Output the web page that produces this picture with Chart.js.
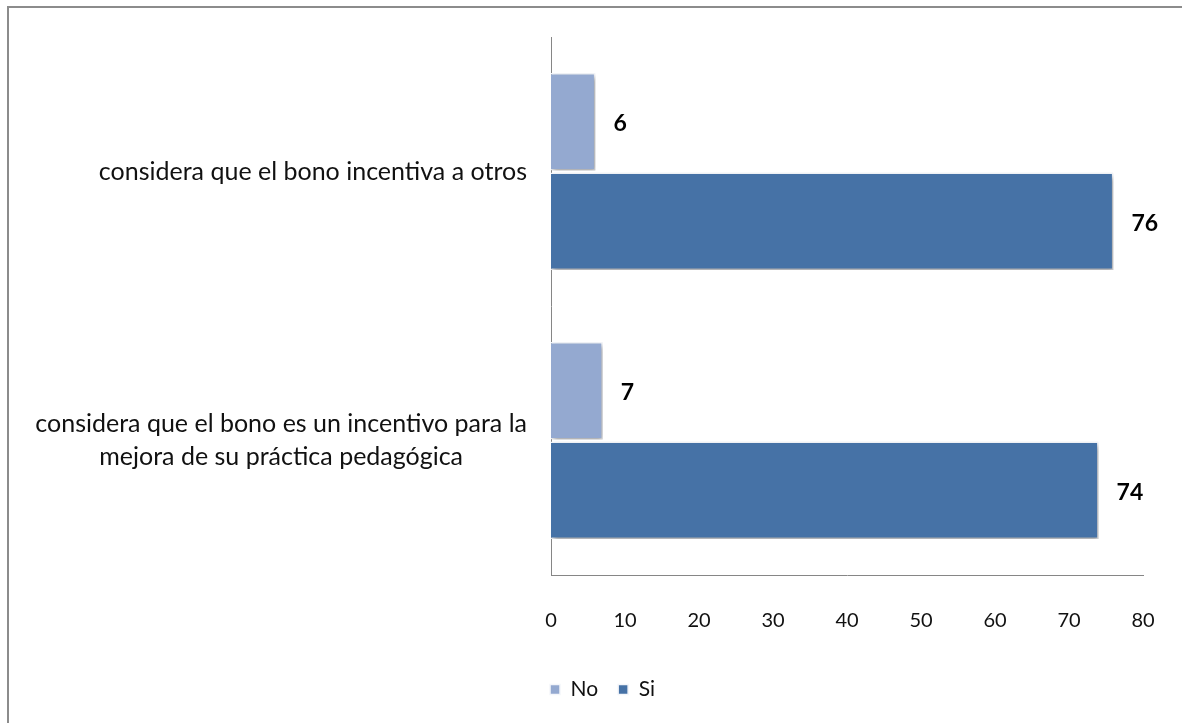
<!DOCTYPE html>
<html>
<head>
<meta charset="utf-8">
<title>Bono incentivo</title>
<script src="https://cdn.jsdelivr.net/npm/chart.js@4"></script>
<style>
  html, body { margin: 0; padding: 0; background: #fff; overflow: hidden; }
  #wrap { position: relative; width: 1182px; height: 723px; }
  #frame { position: absolute; left: 7px; top: 6px; width: 1300px; height: 900px;
           border-left: 2px solid #8c8c8c; border-top: 2px solid #8c8c8c; }
  #c { position: absolute; left: 0; top: 0; }
</style>
</head>
<body>
<div id="wrap">
  <div id="frame"></div>
  <canvas id="c" width="1182" height="723"></canvas>
</div>
<script>
// Categories (each label is a list of lines)
const categories = [
  ["considera que el bono incentiva a otros"],
  ["considera que el bono es un incentivo para la", "mejora de su práctica pedagógica"]
];
const seriesNames = ["No", "Si"];
const noValues = [6, 7];
const siValues = [76, 74];
const xTicks = [0, 10, 20, 30, 40, 50, 60, 70, 80];

const colorNo = "#94a9d0";
const colorSi = "#4672a6";
const FONT = "Lato, 'Open Sans', sans-serif";

// Soft drop shadow under the bars
const barShadow = {
  id: "barShadow",
  beforeDatasetDraw(chart) {
    const ctx = chart.ctx;
    ctx.save();
    ctx.shadowColor = "rgba(0,0,0,0.35)";
    ctx.shadowBlur = 5;
    ctx.shadowOffsetX = 2;
    ctx.shadowOffsetY = 3;
  },
  afterDatasetDraw(chart) {
    chart.ctx.restore();
  }
};

// Category labels: block right-aligned to the axis, lines centred in the block
const categoryLabels = {
  id: "categoryLabels",
  afterDraw(chart) {
    const ctx = chart.ctx;
    const yScale = chart.scales.y;
    const right = chart.chartArea.left - 24;
    const lineH = 33;
    ctx.save();
    ctx.font = "25px " + FONT;
    ctx.fillStyle = "#111";
    ctx.textBaseline = "middle";
    ctx.textAlign = "center";
    categories.forEach((lines, i) => {
      const cy = yScale.getPixelForTick(i);
      const w = Math.max(...lines.map(l => ctx.measureText(l).width));
      const cx = right - w / 2;
      const y0 = cy - (lines.length - 1) * lineH / 2;
      lines.forEach((l, k) => ctx.fillText(l, cx, y0 + k * lineH));
    });
    ctx.restore();
  }
};

// Value labels at the end of each bar
const valueLabels = {
  id: "valueLabels",
  afterDatasetsDraw(chart) {
    const ctx = chart.ctx;
    ctx.save();
    ctx.font = "bold 23px " + FONT;
    ctx.fillStyle = "#000";
    ctx.textBaseline = "middle";
    ctx.textAlign = "left";
    chart.data.datasets.forEach((ds, di) => {
      chart.getDatasetMeta(di).data.forEach((bar, i) => {
        ctx.fillText(String(ds.data[i]), bar.x + 18, bar.y + 2);
      });
    });
    ctx.restore();
  }
};

new Chart(document.getElementById("c"), {
  type: "bar",
  data: {
    labels: categories,
    datasets: [
      { label: seriesNames[0], data: noValues, backgroundColor: colorNo,
        borderColor: "#f4f6fa", borderWidth: 1.5 },
      { label: seriesNames[1], data: siValues, backgroundColor: colorSi,
        borderColor: "#f4f6fa", borderWidth: 1.5 }
    ]
  },
  options: {
    indexAxis: "y",
    responsive: false,
    animation: false,
    devicePixelRatio: 1,
    categoryPercentage: 0.74,
    barPercentage: 0.98,
    layout: { padding: { top: 37, right: 39, bottom: 13, left: 62 } },
    scales: {
      x: {
        min: 0, max: 80,
        afterBuildTicks(scale) { scale.ticks = xTicks.map(v => ({ value: v })); },
        afterFit(scale) {
          scale.height = 84;
          scale.paddingLeft = 0;
          scale.paddingRight = 0;
        },
        grid: { display: false, drawTicks: false },
        border: { display: true, color: "#868686", width: 1 },
        ticks: { color: "#111", padding: 34, font: { family: FONT, size: 20 } }
      },
      y: {
        afterFit(scale) { scale.width = 489; },
        grid: { display: false, drawTicks: false },
        border: { display: true, color: "#868686", width: 1 },
        ticks: { display: false }
      }
    },
    plugins: {
      legend: {
        position: "bottom",
        labels: {
          boxWidth: 10, boxHeight: 10, padding: 20,
          color: "#111",
          font: { family: FONT, size: 21 }
        }
      },
      tooltip: { enabled: false }
    }
  },
  plugins: [barShadow, categoryLabels, valueLabels]
});
</script>
</body>
</html>
